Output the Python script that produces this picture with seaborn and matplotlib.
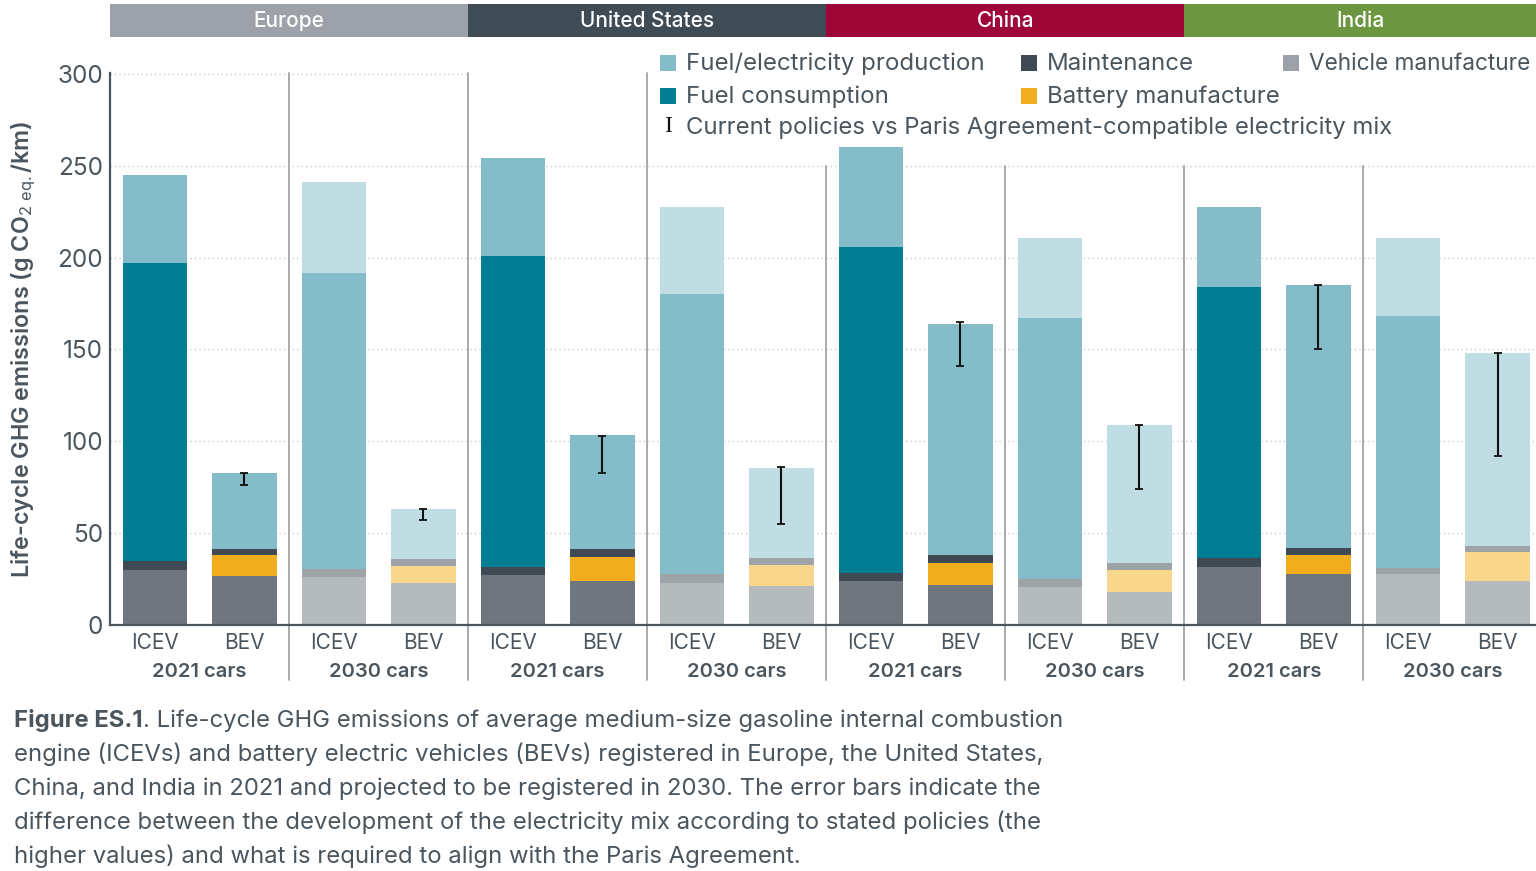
import matplotlib
matplotlib.use("Agg")
import matplotlib.pyplot as plt
from matplotlib.patches import Rectangle
import numpy as np
import pandas as pd
import seaborn as sns

regions = ["Europe", "United States", "China", "India"]
region_colors = ["#9da1a9", "#3f4b55", "#9e0637", "#6c963f"]
year_labels = ["2021 cars", "2030 cars"] * 4
bar_ids = [f"{r}-{y}-{p}" for r in regions for y in (2021, 2030) for p in ("ICEV", "BEV")]
tick_labels = ["ICEV", "BEV"] * 8

# g CO2 eq./km per segment
vehicle = [30, 26.5, 26, 23, 27, 24, 23, 21, 24, 22, 20.5, 18, 31.5, 28, 28, 24]
battery = [0, 11.5, 0, 9, 0, 13, 0, 11.5, 0, 12, 0, 12, 0, 10, 0, 16]
maintenance = [5, 3.5, 4.5, 4, 4.5, 4.5, 4.5, 4, 4.5, 4, 4.5, 4, 5, 4, 3, 3]
fuel_consumption = [162, 0, 161, 0, 169.5, 0, 152.5, 0, 177.5, 0, 142, 0, 147.5, 0, 137, 0]
fuel_production = [48, 41, 49.5, 27, 53, 62, 47.5, 49, 54, 126, 43.5, 75, 43.5, 143, 42.5, 105]

# BEV error bars: Paris-compatible (low) vs current policies (high)
err_low = [76, 57, 83, 55, 141, 74, 150, 92]
err_high = [83, 63, 103, 86, 165, 109, 185, 148]

segments = {
    "Vehicle manufacture": (vehicle, "#6f767e", "#b5babd"),
    "Battery manufacture": (battery, "#f1ad1d", "#f8d68c"),
    "Maintenance": (maintenance, "#3f4a54", "#9ea3a7"),
    "Fuel consumption": (fuel_consumption, "#007d93", "#84bdc9"),
    "Fuel/electricity production": (fuel_production, "#84bdc9", "#bfdde3"),
}

text_color = "#4b555e"
sns.set_theme(style="white")
plt.rcParams["font.family"] = ["Inter", "DejaVu Sans"]
plt.rcParams["mathtext.fontset"] = "custom"
plt.rcParams["mathtext.rm"] = "Inter"
plt.rcParams["mathtext.default"] = "rm"

W, H = 1536, 871
fig = plt.figure(figsize=(W / 100, H / 100), dpi=100)
ax = fig.add_axes([110 / W, 1 - 625 / H, 1 - 110 / W, 552 / H])

# cumulative tops, drawn tallest first so lower segments paint over
df = pd.DataFrame({"bar": bar_ids})
tops = np.cumsum([v[0] for v in segments.values()], axis=0)
for (name, (_, dark, light)), top in reversed(list(zip(segments.items(), tops))):
    df["top"] = top
    palette = [dark if i % 4 < 2 else light for i in range(16)]
    sns.barplot(data=df, x="bar", y="top", hue="bar", palette=palette, order=bar_ids,
                hue_order=bar_ids, dodge=False, width=0.72, legend=False, saturation=1,
                errorbar=None, linewidth=0, zorder=3, ax=ax)

bev_x = np.arange(1, 16, 2)
low = np.array(err_low)
high = np.array(err_high)
ax.errorbar(bev_x, high, yerr=[high - low, np.zeros(8)], fmt="none", ecolor="#111111",
            elinewidth=1.5, capsize=3, capthick=1.3, zorder=4)

ax.set_xlim(-0.5, 15.43)
ax.set_ylim(0, 300.5)
ax.set_yticks(range(0, 301, 50))
ax.set_xticks(range(16))
ax.set_xticklabels(tick_labels)
ax.tick_params(axis="x", labelsize=15, colors=text_color, length=0, pad=6)
ax.tick_params(axis="y", labelsize=17.5, colors=text_color, length=0, pad=5)
ax.set_xlabel("")
ax.set_ylabel("")
ax.set_axisbelow(True)
ax.yaxis.grid(True, color="#c9cccf", linestyle=(0, (1, 2.2)), linewidth=1)
sns.despine(ax=ax, top=True, right=True)
for side in ("left", "bottom"):
    ax.spines[side].set_color(text_color)
    ax.spines[side].set_linewidth(1.6)
    ax.spines[side].set_zorder(5)

# white block behind the legend hides the grid
ax.add_patch(Rectangle((3.5, 251), 12, 50, facecolor="white", edgecolor="none", zorder=1.5))

xt = ax.get_xaxis_transform()
for i in range(1, 8):
    sep_top = 1 if i <= 3 else 0.832
    ax.plot([i * 2 - 0.5] * 2, [-0.0996, sep_top], transform=xt, color="#a8abae", lw=1.4,
            clip_on=False, zorder=2)

for i, label in enumerate(year_labels):
    ax.text(i * 2 + 0.5, -0.0855, label, transform=xt, ha="center", va="center",
            fontsize=14.5, fontweight="semibold", color=text_color)

# region header strip
for i, (name, color) in enumerate(zip(regions, region_colors)):
    x0 = i * 4 - 0.5
    x1 = min(x0 + 4, 15.43)
    ax.add_patch(Rectangle((x0, 1.065), x1 - x0, 0.06, transform=xt, facecolor=color,
                           edgecolor="none", clip_on=False))
    ax.text((x0 + x1) / 2, 1.0945, name, transform=xt, ha="center", va="center",
            fontsize=15, fontweight="medium", color="white")


def fx(px):
    return px / W


def fy(py):
    return 1 - py / H


fig.text(fx(24), fy(349), r"Life-cycle GHG emissions (g CO$_{2\ eq.}$/km)", rotation=90,
         ha="center", va="center", fontsize=16.8, fontweight="semibold", color=text_color)

legend_items = [
    (660, 63, "#84bdc9", "Fuel/electricity production", 17.3),
    (660, 96, "#007d93", "Fuel consumption", 17.3),
    (1021, 63, "#3f4a54", "Maintenance", 17.3),
    (1021, 96, "#f1ad1d", "Battery manufacture", 17.3),
    (1283, 63, "#9da1a9", "Vehicle manufacture", 16.3),
]
for x, y, color, label, size in legend_items:
    fig.patches.append(Rectangle((fx(x), fy(y + 8)), 16 / W, 16 / H, transform=fig.transFigure,
                                 facecolor=color, edgecolor="none", figure=fig))
    fig.text(fx(x + 26), fy(y + 7), label, va="baseline", ha="left", fontsize=size, color=text_color)
fig.text(fx(668), fy(127), "I", va="center", ha="center", fontsize=17, color="#111111",
         family=["Liberation Serif", "DejaVu Serif"])
fig.text(fx(686), fy(134), "Current policies vs Paris Agreement-compatible electricity mix",
         va="baseline", ha="left", fontsize=17.2, color=text_color)

caption = [
    ". Life-cycle GHG emissions of average medium-size gasoline internal combustion",
    "engine (ICEVs) and battery electric vehicles (BEVs) registered in Europe, the United States,",
    "China, and India in 2021 and projected to be registered in 2030. The error bars indicate the",
    "difference between the development of the electricity mix according to stated policies (the",
    "higher values) and what is required to align with the Paris Agreement.",
]
bold = fig.text(fx(14), fy(727), "Figure ES.1", va="baseline", ha="left", fontsize=17.2,
                fontweight="bold", color=text_color)
bold_end = bold.get_window_extent(fig.canvas.get_renderer()).x1
fig.text(fx(bold_end), fy(727), caption[0], va="baseline", ha="left", fontsize=17.2, color=text_color)
for line, y in zip(caption[1:], (761, 795, 829, 863)):
    fig.text(fx(14), fy(y), line, va="baseline", ha="left", fontsize=17.2, color=text_color)

fig.savefig("out.png", dpi=100)
